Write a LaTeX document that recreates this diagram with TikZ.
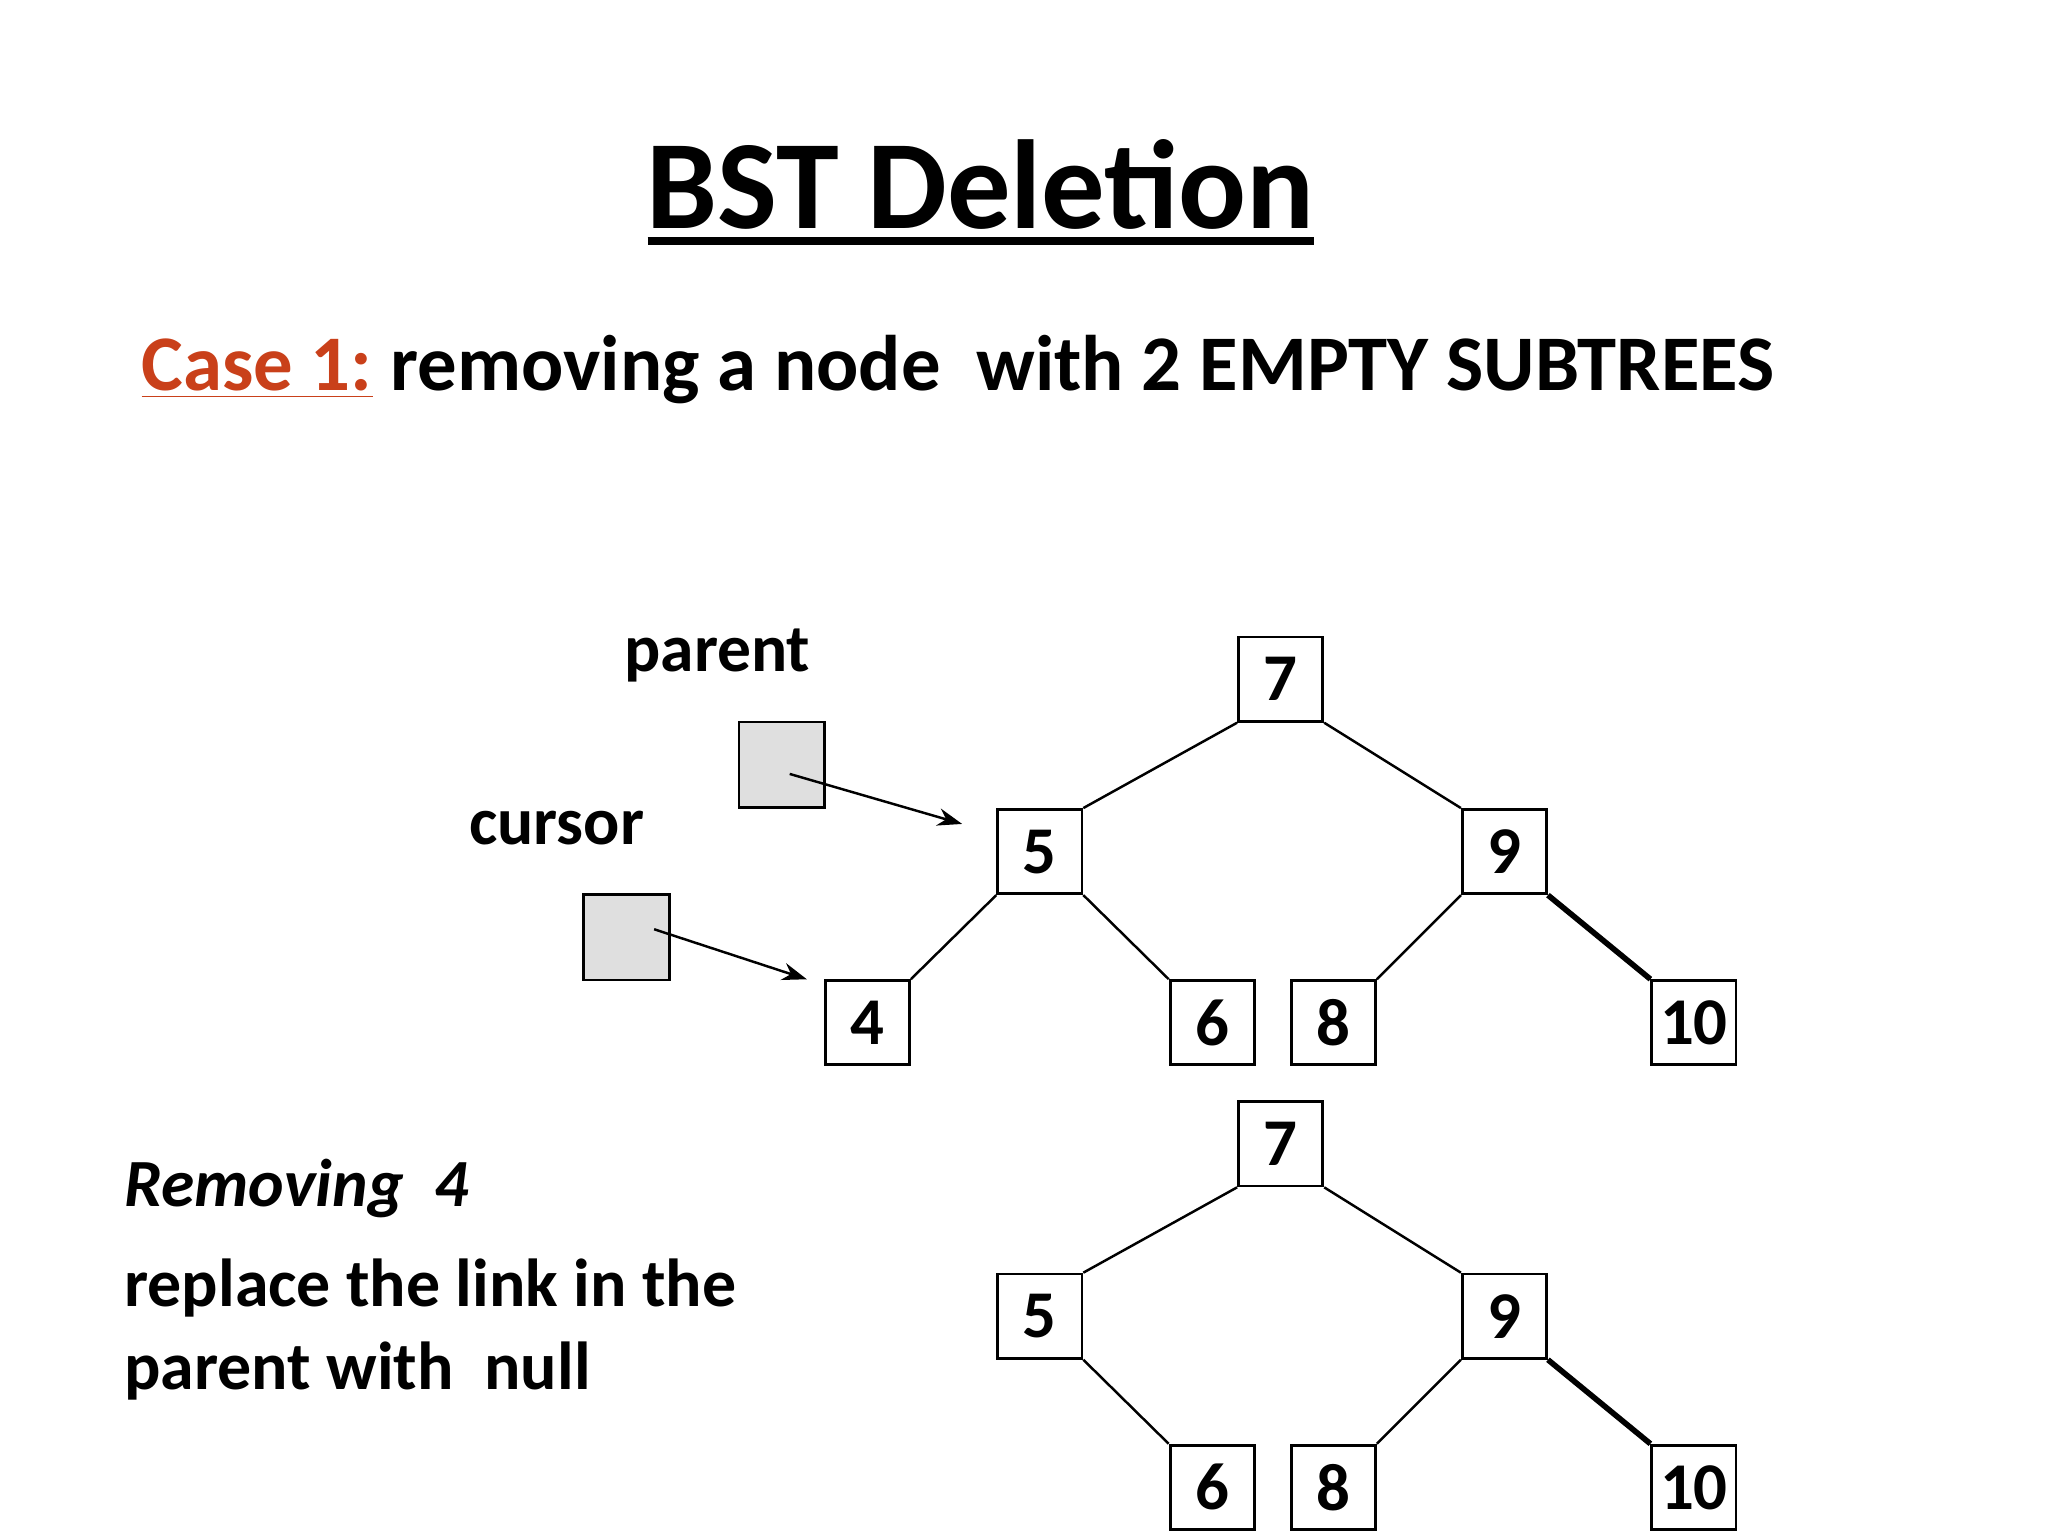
\documentclass[tikz,border=0pt]{standalone}
\usepackage{fontspec}
\setmainfont{Carlito}
\usetikzlibrary{arrows.meta}
\begin{document}
\begin{tikzpicture}[x=0.01316cm,y=-0.01316cm,
  bx/.style={draw,line width=0.8pt,minimum size=0.842cm,inner sep=0pt,font=\fontsize{19}{22}\selectfont\bfseries},
  gb/.style={draw,line width=0.8pt,fill=gray!25,minimum size=0.855cm,inner sep=0pt},
  lk/.style={line width=0.7pt},
  ar/.style={line width=0.7pt,-{Stealth[length=7pt,width=5pt]}},
  lb/.style={font=\fontsize{19.2}{22}\selectfont\bfseries}]
\useasboundingbox (0,0) rectangle (1556,1168);
\node[font=\fontsize{36}{40}\selectfont\bfseries] (title) at (745,140) {BST Dele{}tion};
\draw[line width=2.4pt] (492,183) -- (998,183);
\node[anchor=west,font=\fontsize{22.4}{26}\selectfont\bfseries,inner sep=0pt] (case) at (107,281) {\textcolor[HTML]{C9401A}{\underline{Case 1:}} removing a node\ \ with 2 EMPTY SUBTREES};
% top tree
\node[bx] (a7) at (973,516) {7};
\node[bx] (a5) at (790,647) {5};
\node[bx] (a9) at (1143,647) {9};
\node[bx] (a4) at (659,777) {4};
\node[bx] (a6) at (921,777) {6};
\node[bx] (a8) at (1013,777) {\raisebox{-4pt}{8}};
\node[bx] (a10) at (1287,777) {\raisebox{-4pt}{10}};
\draw[lk] (a7.south west) -- (a5.north east);
\draw[lk] (a7.south east) -- (a9.north west);
\draw[lk] (a5.south west) -- (a4.north east);
\draw[lk] (a5.south east) -- (a6.north west);
\draw[lk] (a9.south west) -- (a8.north east);
\draw[line width=1.6pt] (a9.south east) -- (a10.north west);
% pointers
\node[lb] (pl) at (545,498) {parent};
\node[gb] (pb) at (594,581) {};
\node[lb] (cl) at (423,629) {cursor};
\node[gb] (cb) at (476,712) {};
\coordinate (pt) at (731,626);
\coordinate (ct) at (613,744);
\draw[ar] (600,588) -- (pt);
\draw[ar] (497,706) -- (ct);
% bottom tree
\node[bx] (b7) at (973,869) {7};
\node[bx] (b5) at (790,1000) {5};
\node[bx] (b9) at (1143,1000) {9};
\node[bx] (b6) at (921,1130) {6};
\node[bx] (b8) at (1013,1130) {\raisebox{-4pt}{8}};
\node[bx] (b10) at (1287,1130) {\raisebox{-4pt}{10}};
\draw[lk] (b7.south west) -- (b5.north east);
\draw[lk] (b7.south east) -- (b9.north west);
\draw[lk] (b5.south east) -- (b6.north west);
\draw[lk] (b9.south west) -- (b8.north east);
\draw[line width=1.6pt] (b9.south east) -- (b10.north west);
% text
\node[lb,anchor=west,inner sep=0pt] (rm) at (94,903) {\itshape Removing\ \ 4};
\node[anchor=north west,inner sep=0pt,align=left,font=\fontsize{19.3}{23.5}\selectfont\bfseries] (rp) at (94,956) {replace the link in the\\parent with\ \ null};
\end{tikzpicture}
\end{document}
